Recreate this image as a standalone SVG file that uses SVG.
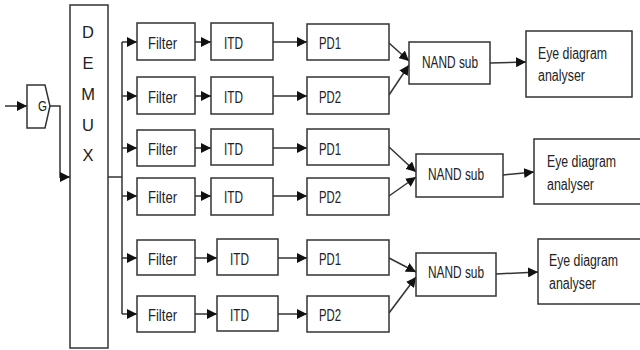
<svg xmlns="http://www.w3.org/2000/svg" width="640" height="350" viewBox="0 0 640 350">
<style>
.box{fill:#fff;stroke:#333;stroke-width:1.5}
.ln{fill:none;stroke:#333;stroke-width:1.5}
.t{font-family:"Liberation Sans",Arial,sans-serif;font-size:16px;fill:#222}
.big{font-family:"Liberation Sans",Arial,sans-serif;font-size:16.5px;fill:#222;text-anchor:middle}
</style>
<defs>
<marker id="ah" markerUnits="userSpaceOnUse" markerWidth="10" markerHeight="10" viewBox="0 0 10 10" refX="10" refY="5" orient="auto">
<path d="M0,0 L10,5 L0,10 Z" fill="#111"/>
</marker>
</defs>
<rect width="640" height="350" fill="#fff"/>
<g id="connectors">
<line class="ln" x1="5" y1="106" x2="27" y2="106" marker-end="url(#ah)"/>
<polyline class="ln" points="50,106 60,106 60,177 70,177" marker-end="url(#ah)"/>
<polyline class="ln" points="108,177 122,177"/>
<line class="ln" x1="122" y1="42" x2="122" y2="314"/>
<line class="ln" x1="122" y1="42" x2="137" y2="42" marker-end="url(#ah)"/>
<line class="ln" x1="122" y1="96" x2="137" y2="96" marker-end="url(#ah)"/>
<line class="ln" x1="122" y1="148" x2="137" y2="148" marker-end="url(#ah)"/>
<line class="ln" x1="122" y1="196" x2="137" y2="196" marker-end="url(#ah)"/>
<line class="ln" x1="122" y1="258" x2="137" y2="258" marker-end="url(#ah)"/>
<line class="ln" x1="122" y1="314" x2="137" y2="314" marker-end="url(#ah)"/>
<line class="ln" x1="195" y1="42" x2="211" y2="42" marker-end="url(#ah)"/>
<line class="ln" x1="195" y1="96" x2="211" y2="96" marker-end="url(#ah)"/>
<line class="ln" x1="195" y1="148" x2="211" y2="148" marker-end="url(#ah)"/>
<line class="ln" x1="195" y1="196" x2="211" y2="196" marker-end="url(#ah)"/>
<line class="ln" x1="195" y1="258" x2="217" y2="258" marker-end="url(#ah)"/>
<line class="ln" x1="195" y1="314" x2="217" y2="314" marker-end="url(#ah)"/>
<line class="ln" x1="273" y1="42" x2="307" y2="42" marker-end="url(#ah)"/>
<line class="ln" x1="273" y1="96" x2="307" y2="96" marker-end="url(#ah)"/>
<line class="ln" x1="273" y1="148" x2="307" y2="148" marker-end="url(#ah)"/>
<line class="ln" x1="273" y1="196" x2="307" y2="196" marker-end="url(#ah)"/>
<line class="ln" x1="278" y1="258" x2="307" y2="258" marker-end="url(#ah)"/>
<line class="ln" x1="278" y1="314" x2="307" y2="314" marker-end="url(#ah)"/>
<line class="ln" x1="389" y1="43" x2="409" y2="61" marker-end="url(#ah)"/>
<line class="ln" x1="389" y1="95" x2="409" y2="65" marker-end="url(#ah)"/>
<line class="ln" x1="389" y1="147" x2="416" y2="172" marker-end="url(#ah)"/>
<line class="ln" x1="389" y1="196" x2="416" y2="177" marker-end="url(#ah)"/>
<line class="ln" x1="389" y1="258" x2="416" y2="272" marker-end="url(#ah)"/>
<line class="ln" x1="389" y1="313" x2="416" y2="277" marker-end="url(#ah)"/>
<line class="ln" x1="490" y1="63" x2="526" y2="62" marker-end="url(#ah)"/>
<line class="ln" x1="503" y1="175" x2="534" y2="172" marker-end="url(#ah)"/>
<line class="ln" x1="496" y1="274" x2="538" y2="272" marker-end="url(#ah)"/>
</g>
<g id="G"><polygon class="box" points="27,85 45,85 50,106 45,128 27,128"/><text class="t" x="38" y="111" textLength="9" lengthAdjust="spacingAndGlyphs" style="font-size:15px">G</text></g>
<g id="demux"><rect class="box" x="70" y="5" width="38" height="343"/>
<text class="big" x="88" y="38">D</text><text class="big" x="88" y="69">E</text><text class="big" x="88" y="100">M</text><text class="big" x="88" y="131">U</text><text class="big" x="88" y="161">X</text></g>
<g id="filter1"><rect class="box" x="137" y="23" width="58" height="37"/><text class="t" x="148" y="49" textLength="29" lengthAdjust="spacingAndGlyphs">Filter</text></g>
<g id="filter2"><rect class="box" x="137" y="77" width="58" height="37"/><text class="t" x="148" y="103" textLength="29" lengthAdjust="spacingAndGlyphs">Filter</text></g>
<g id="filter3"><rect class="box" x="137" y="130" width="58" height="36"/><text class="t" x="148" y="155" textLength="29" lengthAdjust="spacingAndGlyphs">Filter</text></g>
<g id="filter4"><rect class="box" x="137" y="178" width="58" height="37"/><text class="t" x="148" y="203" textLength="29" lengthAdjust="spacingAndGlyphs">Filter</text></g>
<g id="filter5"><rect class="box" x="137" y="240" width="58" height="35"/><text class="t" x="148" y="265" textLength="29" lengthAdjust="spacingAndGlyphs">Filter</text></g>
<g id="filter6"><rect class="box" x="137" y="296" width="58" height="36"/><text class="t" x="148" y="321" textLength="29" lengthAdjust="spacingAndGlyphs">Filter</text></g>
<g id="itd1"><rect class="box" x="211" y="23" width="62" height="37"/><text class="t" x="224" y="49" textLength="19" lengthAdjust="spacingAndGlyphs">ITD</text></g>
<g id="itd2"><rect class="box" x="211" y="77" width="62" height="37"/><text class="t" x="224" y="103" textLength="19" lengthAdjust="spacingAndGlyphs">ITD</text></g>
<g id="itd3"><rect class="box" x="211" y="129" width="62" height="36"/><text class="t" x="224" y="155" textLength="19" lengthAdjust="spacingAndGlyphs">ITD</text></g>
<g id="itd4"><rect class="box" x="211" y="178" width="62" height="37"/><text class="t" x="224" y="203" textLength="19" lengthAdjust="spacingAndGlyphs">ITD</text></g>
<g id="itd5"><rect class="box" x="217" y="239" width="61" height="36"/><text class="t" x="230" y="265" textLength="19" lengthAdjust="spacingAndGlyphs">ITD</text></g>
<g id="itd6"><rect class="box" x="217" y="296" width="61" height="35"/><text class="t" x="230" y="321" textLength="19" lengthAdjust="spacingAndGlyphs">ITD</text></g>
<g id="pd1a"><rect class="box" x="307" y="24" width="82" height="36"/><text class="t" x="319" y="49" textLength="22" lengthAdjust="spacingAndGlyphs">PD1</text></g>
<g id="pd2a"><rect class="box" x="307" y="77" width="82" height="37"/><text class="t" x="319" y="103" textLength="22" lengthAdjust="spacingAndGlyphs">PD2</text></g>
<g id="pd1b"><rect class="box" x="307" y="129" width="82" height="36"/><text class="t" x="319" y="155" textLength="22" lengthAdjust="spacingAndGlyphs">PD1</text></g>
<g id="pd2b"><rect class="box" x="307" y="178" width="82" height="37"/><text class="t" x="319" y="203" textLength="22" lengthAdjust="spacingAndGlyphs">PD2</text></g>
<g id="pd1c"><rect class="box" x="307" y="240" width="82" height="35"/><text class="t" x="319" y="265" textLength="22" lengthAdjust="spacingAndGlyphs">PD1</text></g>
<g id="pd2c"><rect class="box" x="307" y="296" width="82" height="36"/><text class="t" x="319" y="321" textLength="22" lengthAdjust="spacingAndGlyphs">PD2</text></g>
<g id="nand1"><rect class="box" x="409" y="42" width="81" height="42"/><text class="t" x="422" y="68" textLength="56" lengthAdjust="spacingAndGlyphs">NAND sub</text></g>
<g id="nand2"><rect class="box" x="416" y="154" width="87" height="43"/><text class="t" x="428" y="180" textLength="56" lengthAdjust="spacingAndGlyphs">NAND sub</text></g>
<g id="nand3"><rect class="box" x="416" y="253" width="80" height="43"/><text class="t" x="428" y="278" textLength="56" lengthAdjust="spacingAndGlyphs">NAND sub</text></g>
<g id="eye1"><rect class="box" x="526" y="31" width="106" height="66"/><text class="t" x="538" y="59" textLength="69" lengthAdjust="spacingAndGlyphs">Eye diagram</text><text class="t" x="538" y="81" textLength="47" lengthAdjust="spacingAndGlyphs">analyser</text></g>
<g id="eye2"><rect class="box" x="534" y="139" width="110" height="65"/><text class="t" x="547" y="167" textLength="69" lengthAdjust="spacingAndGlyphs">Eye diagram</text><text class="t" x="547" y="190" textLength="47" lengthAdjust="spacingAndGlyphs">analyser</text></g>
<g id="eye3"><rect class="box" x="538" y="239" width="110" height="65"/><text class="t" x="549" y="266" textLength="69" lengthAdjust="spacingAndGlyphs">Eye diagram</text><text class="t" x="549" y="289" textLength="47" lengthAdjust="spacingAndGlyphs">analyser</text></g>
</svg>
